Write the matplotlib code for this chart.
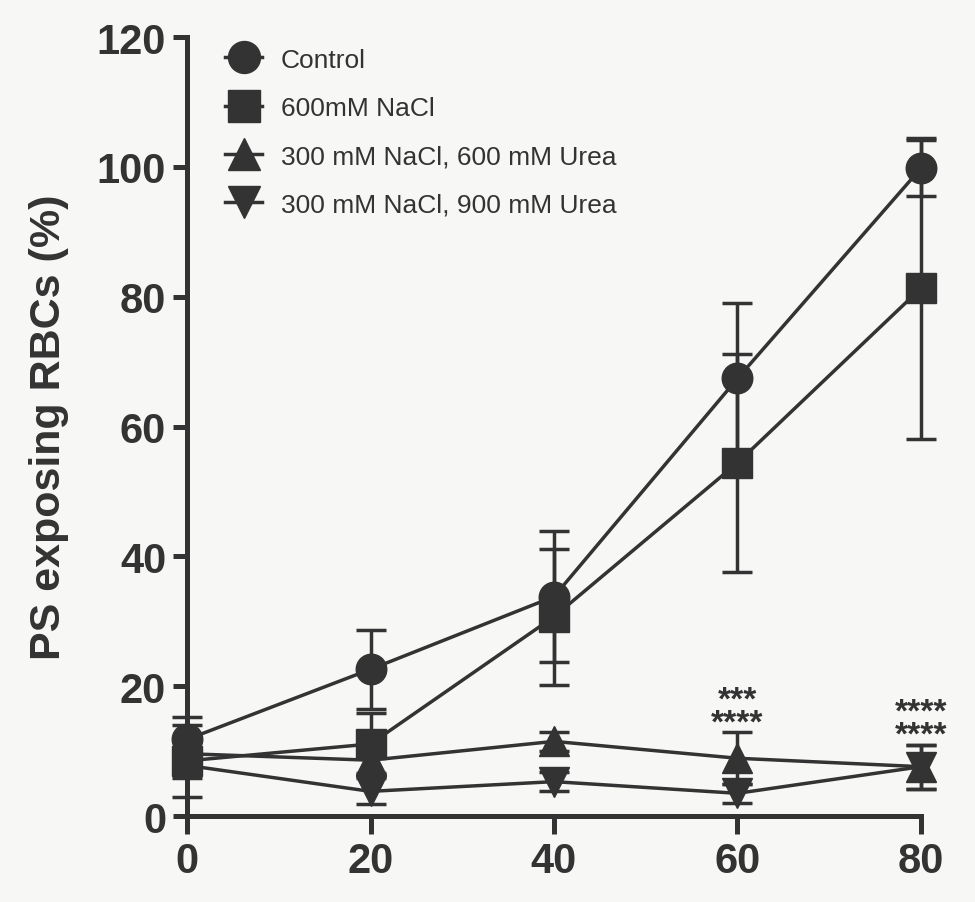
import matplotlib.pyplot as plt
from matplotlib.lines import Line2D

time_min = [0, 20, 40, 60, 80]

control = [11.8, 22.6, 33.8, 67.4, 99.8]
control_err = [3.4, 6.1, 10.1, 11.7, 4.3]

nacl = [8.5, 11.1, 30.7, 54.4, 81.3]
nacl_err = [5.5, 4.8, 10.5, 16.8, 23.2]

urea600 = [9.6, 8.6, 11.5, 8.9, 7.6]
urea600_err = [2.0, 2.0, 1.5, 4.0, 3.4]

urea900 = [7.8, 3.8, 5.3, 3.5, 7.6]
urea900_err = [2.0, 2.0, 1.5, 1.5, 3.4]

labels = ['Control', '600mM NaCl', '300 mM NaCl, 600 mM Urea', '300 mM NaCl, 900 mM Urea']
stars = {60: '***\n****', 80: '****\n****'}

ink = '#333333'
plt.rcParams['font.family'] = ['Liberation Sans', 'DejaVu Sans']

fig = plt.figure(figsize=(9.75, 9.03), dpi=100, facecolor='#f7f7f6')
ax = fig.add_axes([0.1918, 0.0952, 0.7528, 0.8627])
ax.set_facecolor('#f7f7f6')

series = [(control, control_err, 'o'), (nacl, nacl_err, 's'),
          (urea600, urea600_err, '^'), (urea900, urea900_err, 'v')]
handles = []
for (vals, errs, mk), lab in zip(series, labels):
    ax.errorbar(time_min, vals, yerr=errs, marker=mk, markersize=22, color=ink,
                linewidth=2.5, elinewidth=2.5, capsize=11, capthick=2.5,
                clip_on=False, zorder=3)
    handles.append(Line2D([], [], marker=mk, markersize=23, color=ink,
                          linewidth=2.5, label=lab))

# significance stars above the urea groups
for x, s in stars.items():
    i = time_min.index(x)
    top = max(urea600[i] + urea600_err[i], urea900[i] + urea900_err[i])
    ax.text(x, top + 3.2, s, ha='center', va='center', fontsize=24, fontweight='bold',
            color=ink, linespacing=0.66)

ax.set_xlim(0, 80)
ax.set_ylim(0, 120)
ax.set_xticks(time_min)
ax.set_yticks(range(0, 121, 20))
for side in ['top', 'right']:
    ax.spines[side].set_visible(False)
for side in ['left', 'bottom']:
    ax.spines[side].set_linewidth(3.6)
    ax.spines[side].set_color(ink)
ax.tick_params(axis='y', length=10)
ax.tick_params(axis='x', length=13)
ax.tick_params(width=3.6, color=ink, labelcolor=ink, labelsize=30, pad=5)
for lbl in ax.get_xticklabels() + ax.get_yticklabels():
    lbl.set_fontweight('bold')

ax.set_ylabel('PS exposing RBCs (%)', fontsize=31, fontweight='bold', color=ink, labelpad=20)

leg = ax.legend(handles=handles, loc='upper left', bbox_to_anchor=(0.02, 1.017), frameon=False,
                fontsize=19, handlelength=1.4, handletextpad=0.7, labelspacing=0.92)
for t in leg.get_texts():
    t.set_color(ink)

fig.savefig('out.png', dpi=100, facecolor=fig.get_facecolor())
